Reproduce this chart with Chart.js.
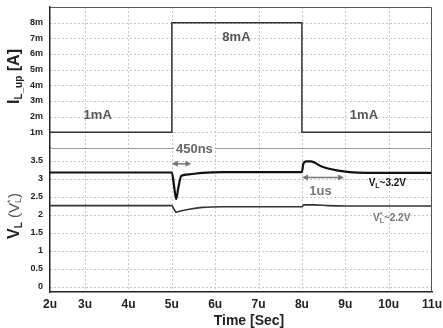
<!DOCTYPE html>
<html>
<head>
<meta charset="utf-8">
<script src="https://cdn.jsdelivr.net/npm/chart.js@4.4.1/dist/chart.umd.min.js"></script>
<style>
  html, body { margin: 0; padding: 0; background: #fff; }
</style>
</head>
<body>
<canvas id="chart" width="443" height="328"></canvas>
<script>
// time axis (us)
const xMin = 2.19, xMax = 11;
const timeTicks = [2, 3, 4, 5, 6, 7, 8, 9, 10, 11];
const currentTicks = [1, 2, 3, 4, 5, 6, 7, 8];
const voltTicks = [0, 0.5, 1, 1.5, 2, 2.5, 3, 3.5];

// I_L_up in mA
const iTime = [2, 5, 5, 8, 8, 11];
const iVal  = [1, 1, 8, 8, 1, 1];

// V_L
const vlTime = [2, 5.0, 5.04, 5.1, 5.15, 5.22, 5.4, 5.7, 6.2, 8.0, 8.03, 8.1, 8.2, 8.3, 8.43, 8.6, 8.8, 9.1, 9.5, 11];
const vlVal  = [3.17, 3.17, 2.9, 2.43, 2.75, 3.08, 3.12, 3.16, 3.18, 3.18, 3.4, 3.48, 3.48, 3.44, 3.35, 3.28, 3.23, 3.18, 3.16, 3.16];

// V_L*
const vl2Time = [2, 5.0, 5.05, 5.1, 5.2, 5.4, 5.7, 6.2, 8.0, 8.05, 8.3, 8.6, 9.0, 11];
const vl2Val  = [2.25, 2.25, 2.15, 2.07, 2.1, 2.15, 2.2, 2.22, 2.22, 2.27, 2.27, 2.25, 2.24, 2.24];

const pts = (xs, ys) => xs.map((x, i) => ({ x: x, y: ys[i] }));
const FONT = '"Liberation Sans", Arial, sans-serif';

function richWidth(ctx, parts) {
  let w = 0;
  parts.forEach(p => { ctx.font = p.font; if (!p.noAdvance) w += ctx.measureText(p.t).width; });
  return w;
}
function drawRich(ctx, parts, cx, cy) {
  let x = cx - richWidth(ctx, parts) / 2;
  ctx.textBaseline = 'middle';
  ctx.textAlign = 'left';
  parts.forEach(p => {
    ctx.font = p.font;
    ctx.fillStyle = p.color || '#222';
    ctx.fillText(p.t, x, cy + (p.dy || 0));
    if (!p.noAdvance) x += ctx.measureText(p.t).width;
  });
}
function arrow(ctx, x1, x2, y, color) {
  ctx.save();
  ctx.strokeStyle = color; ctx.fillStyle = color; ctx.lineWidth = 1.5;
  ctx.beginPath(); ctx.moveTo(x1 + 2, y); ctx.lineTo(x2 - 2, y); ctx.stroke();
  [[x1, 1], [x2, -1]].forEach(([x, d]) => {
    ctx.beginPath();
    ctx.moveTo(x, y); ctx.lineTo(x + 6 * d, y - 3); ctx.lineTo(x + 6 * d, y + 3);
    ctx.closePath(); ctx.fill();
  });
  ctx.restore();
}

// dotted grid from the scales' tick positions
function drawGrid(chart) {
  const ctx = chart.ctx;
  const a = chart.chartArea;
  const sx = chart.scales.x, sI = chart.scales.yI, sV = chart.scales.yV;
  ctx.save();
  ctx.globalCompositeOperation = 'destination-over';
  ctx.strokeStyle = '#c6c6c6';
  ctx.lineWidth = 1;
  ctx.setLineDash([2, 2]);
  const vx = timeTicks.filter(t => t > xMin && t < xMax).map(t => Math.round(sx.getPixelForValue(t)) + 0.5);
  const hy = currentTicks.map(t => Math.round(sI.getPixelForValue(t)) + 0.5)
    .concat(voltTicks.map(t => Math.round(sV.getPixelForValue(t)) + 0.5));
  vx.forEach(x => {
    ctx.beginPath(); ctx.moveTo(x, a.top); ctx.lineTo(x, a.bottom); ctx.stroke();
  });
  hy.forEach(y => {
    ctx.beginPath(); ctx.moveTo(a.left, y); ctx.lineTo(a.right, y); ctx.stroke();
  });
  ctx.restore();
}

const annotations = {
  id: 'annotations',
  afterDatasetsDraw(chart) {
    const ctx = chart.ctx;
    const a = chart.chartArea;
    const sx = chart.scales.x, sI = chart.scales.yI, sV = chart.scales.yV;

    // grid goes underneath what is already drawn
    drawGrid(chart);

    ctx.save();
    // frame top/right
    ctx.strokeStyle = '#555'; ctx.lineWidth = 1;
    ctx.beginPath();
    ctx.moveTo(a.left, a.top + 0.5); ctx.lineTo(a.right - 0.5, a.top + 0.5); ctx.lineTo(a.right - 0.5, a.bottom);
    ctx.stroke();

    // panel separator with 450ns label
    const sepY = sV.top + 0.5;
    ctx.strokeStyle = '#999'; ctx.lineWidth = 1.2;
    ctx.beginPath(); ctx.moveTo(a.left, sepY); ctx.lineTo(a.right, sepY); ctx.stroke();
    const t450x = sx.getPixelForValue(5.52);
    ctx.font = 'bold 13px ' + FONT;
    const w450 = ctx.measureText('450ns').width;
    ctx.fillStyle = '#fff';
    ctx.fillRect(t450x - w450 / 2 - 2, sepY - 7, w450 + 4, 14);
    drawRich(ctx, [{ t: '450ns', font: 'bold 13px ' + FONT, color: '#666' }], t450x, sepY + 1);

    // current labels
    const lab = 'bold 13px ' + FONT;
    drawRich(ctx, [{ t: '1mA', font: lab, color: '#555' }], sx.getPixelForValue(3.29), sI.getPixelForValue(2.05));
    drawRich(ctx, [{ t: '8mA', font: lab, color: '#555' }], sx.getPixelForValue(6.49), sI.getPixelForValue(7.08));
    drawRich(ctx, [{ t: '1mA', font: lab, color: '#555' }], sx.getPixelForValue(9.43), sI.getPixelForValue(2.05));

    // arrows
    arrow(ctx, sx.getPixelForValue(5.0), sx.getPixelForValue(5.45), sV.getPixelForValue(3.41), '#777');
    arrow(ctx, sx.getPixelForValue(8.0), sx.getPixelForValue(8.97), sV.getPixelForValue(3.03), '#777');
    drawRich(ctx, [{ t: '1us', font: 'bold 13px ' + FONT, color: '#777' }], sx.getPixelForValue(8.43), sV.getPixelForValue(2.63));

    // voltage labels
    const b10 = 'bold 10px ' + FONT, b7 = 'bold 7px ' + FONT;
    drawRich(ctx, [
      { t: 'V', font: b10, color: '#111' },
      { t: 'L', font: b7, color: '#111', dy: 3 },
      { t: '~3.2V', font: b10, color: '#111' }
    ], sx.getPixelForValue(9.97), sV.getPixelForValue(2.88));
    drawRich(ctx, [
      { t: 'V', font: b10, color: '#777' },
      { t: '*', font: b7, color: '#777', dy: -3, noAdvance: true },
      { t: 'L', font: b7, color: '#777', dy: 3 },
      { t: '~2.2V', font: b10, color: '#777' }
    ], sx.getPixelForValue(10.07), sV.getPixelForValue(1.91));

    // axis titles
    const t16 = 'bold 16px ' + FONT, t10 = 'bold 10px ' + FONT;
    ctx.save();
    ctx.translate(15, (sI.top + sI.bottom) / 2 - 1);
    ctx.rotate(-Math.PI / 2);
    drawRich(ctx, [
      { t: 'I', font: t16, color: '#222' },
      { t: 'L_up', font: t10, color: '#222', dy: 4 },
      { t: ' [A]', font: t16, color: '#222' }
    ], 0, 0);
    ctx.restore();

    ctx.save();
    ctx.translate(15, 216);
    ctx.rotate(-Math.PI / 2);
    const n15 = '15px ' + FONT, n9 = '9px ' + FONT;
    drawRich(ctx, [
      { t: 'V', font: t16, color: '#222' },
      { t: 'L', font: t10, color: '#222', dy: 4 },
      { t: ' (V', font: n15, color: '#555' },
      { t: '*', font: n9, color: '#555', dy: -4, noAdvance: true },
      { t: 'L', font: n9, color: '#555', dy: 4 },
      { t: ')', font: n15, color: '#555' }
    ], 0, 0);
    ctx.restore();

    drawRich(ctx, [{ t: 'Time [Sec]', font: 'bold 14px ' + FONT, color: '#222' }], 249, 321);
    ctx.restore();
  }
};

const gridOff = { display: false, drawTicks: false };
const axisBorder = { display: true, color: '#222', width: 1.5 };
const fitY = s => { s.width = 50; s.paddingTop = 0; s.paddingBottom = 0; };

new Chart(document.getElementById('chart'), {
  type: 'line',
  data: {
    datasets: [
      { data: pts(iTime, iVal), yAxisID: 'yI', borderColor: '#333', borderWidth: 1.5, pointRadius: 0, tension: 0 },
      { data: pts(vlTime, vlVal), yAxisID: 'yV', borderColor: '#111', borderWidth: 2.2, pointRadius: 0, cubicInterpolationMode: 'monotone' },
      { data: pts(vl2Time, vl2Val), yAxisID: 'yV', borderColor: '#333', borderWidth: 1.6, pointRadius: 0, cubicInterpolationMode: 'monotone' }
    ]
  },
  options: {
    responsive: false,
    animation: false,
    layout: { padding: { top: 7, right: 11, left: 0, bottom: 0 } },
    plugins: { legend: { display: false }, tooltip: { enabled: false } },
    scales: {
      x: {
        type: 'linear', min: xMin, max: xMax,
        afterBuildTicks: s => { s.ticks = timeTicks.map(v => ({ value: Math.max(v, xMin) })); },
        afterFit: s => { s.height = 36; s.paddingLeft = 0; s.paddingRight = 0; },
        grid: gridOff,
        border: axisBorder,
        ticks: {
          padding: 5, color: '#222', font: { family: FONT, size: 12, weight: 'bold' },
          callback: (v, i) => timeTicks[i] + 'u', maxRotation: 0, autoSkip: false
        }
      },
      yV: {
        type: 'linear', position: 'left', stack: 'v', stackWeight: 144,
        min: -0.15, max: 3.85,
        afterBuildTicks: s => { s.ticks = voltTicks.map(v => ({ value: v })); },
        afterFit: fitY,
        grid: gridOff,
        border: axisBorder,
        ticks: { padding: 7, autoSkip: false, color: '#222', font: { family: FONT, size: 9, weight: 'bold' }, callback: v => String(v) }
      },
      yI: {
        type: 'linear', position: 'left', stack: 'v', stackWeight: 141,
        min: 0, max: 9,
        afterBuildTicks: s => { s.ticks = currentTicks.map(v => ({ value: v })); },
        afterFit: fitY,
        grid: gridOff,
        border: axisBorder,
        ticks: { padding: 7, autoSkip: false, color: '#222', font: { family: FONT, size: 9, weight: 'bold' }, callback: v => v + 'm' }
      }
    }
  },
  plugins: [annotations]
});
</script>
</body>
</html>
